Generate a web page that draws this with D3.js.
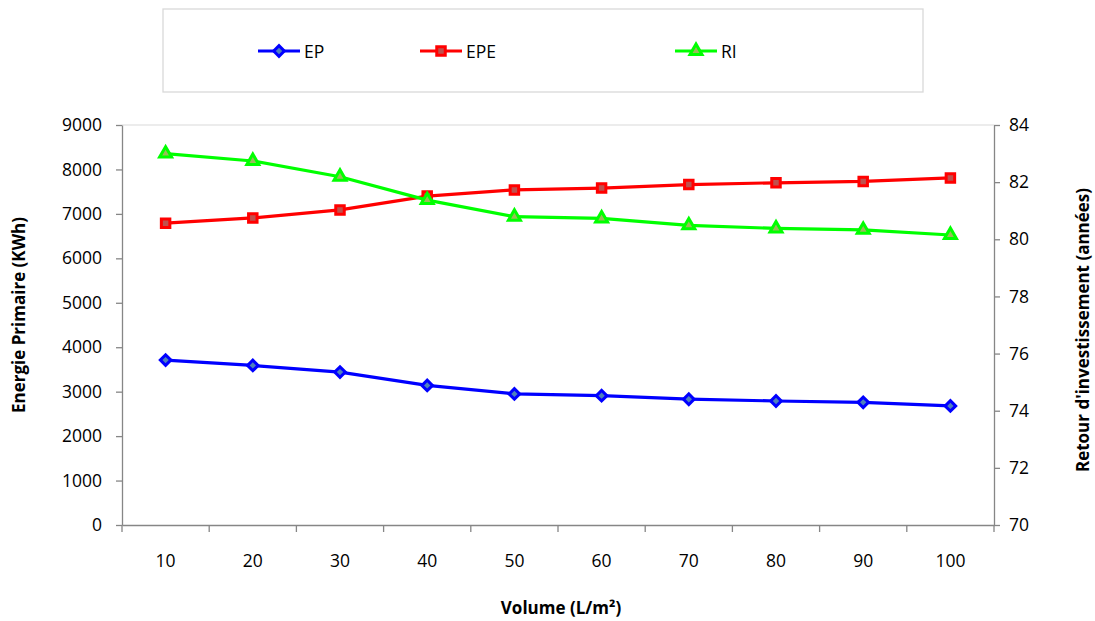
<!DOCTYPE html>
<html>
<head>
<meta charset="utf-8">
<script src="https://cdn.jsdelivr.net/npm/d3@7"></script>
<style>
  html, body { margin: 0; padding: 0; background: #fff; }
  svg { display: block; font-family: "Open Sans", Lato, sans-serif; }
</style>
</head>
<body>
<svg id="chart" width="1095" height="621"></svg>
<script>
// Volume categories (L/m²)
const volumes = [10, 20, 30, 40, 50, 60, 70, 80, 90, 100];
// Primary energy (KWh)
const ep  = [3710, 3590, 3440, 3140, 2950, 2910, 2830, 2790, 2760, 2680];
const epe = [6790, 6910, 7090, 7400, 7540, 7580, 7660, 7700, 7730, 7810];
// Return on investment (years)
const ri  = [83.0, 82.74, 82.19, 81.37, 80.79, 80.73, 80.49, 80.38, 80.33, 80.15];

const leftTicks  = [0, 1000, 2000, 3000, 4000, 5000, 6000, 7000, 8000, 9000];
const rightTicks = [70, 72, 74, 76, 78, 80, 82, 84];

const svg = d3.select("#chart");
const m = { left: 122, right: 994, top: 125, bottom: 525 };
const axisColor = "#868686";
const font = "'Open Sans', Lato, sans-serif";
const tickSize = "17.5px";

const x = d3.scaleBand().domain(volumes).range([m.left, m.right]);
const yL = d3.scaleLinear().domain([0, 9000]).range([m.bottom, m.top]);
const yR = d3.scaleLinear().domain([70, 84]).range([m.bottom, m.top]);

// plot area top border
svg.append("line")
  .attr("x1", m.left).attr("x2", m.right)
  .attr("y1", m.top).attr("y2", m.top)
  .attr("stroke", "#d9d9d9").attr("stroke-width", 1);

function styleAxis(g) {
  g.selectAll("path, line").attr("stroke", axisColor).attr("stroke-width", 1.3);
  g.selectAll("text").attr("fill", "#000").style("font-size", tickSize)
    .style("font-family", font);
}

// left axis
const gL = svg.append("g").attr("transform", `translate(${m.left},0)`)
  .call(d3.axisLeft(yL).tickValues(leftTicks).tickSize(6).tickSizeOuter(0).tickPadding(14).tickFormat(d3.format("d")));
styleAxis(gL);

// right axis
const gR = svg.append("g").attr("transform", `translate(${m.right},0)`)
  .call(d3.axisRight(yR).tickValues(rightTicks).tickSize(6).tickSizeOuter(0).tickPadding(9));
styleAxis(gR);

// bottom axis: labels centred in bands, ticks at band boundaries
const gB = svg.append("g").attr("transform", `translate(0,${m.bottom})`)
  .call(d3.axisBottom(x).tickSize(0).tickPadding(30));
styleAxis(gB);
const bounds = volumes.map((v) => x(v)).concat([m.right]);
gB.selectAll(".bound").data(bounds).enter().append("line")
  .attr("x1", (d) => d).attr("x2", (d) => d)
  .attr("y1", 0).attr("y2", 7)
  .attr("stroke", axisColor).attr("stroke-width", 1.3);

const cx = (i) => x(volumes[i]) + x.bandwidth() / 2;

// series; the EP diamond is a square turned by 45 degrees
const series = [
  { name: "EP",  values: ep,  y: yL, color: "#0000ff", fill: "#4f81bd", shape: d3.symbolSquare,   size: 56, rot: 45 },
  { name: "EPE", values: epe, y: yL, color: "#ff0000", fill: "#c0504d", shape: d3.symbolSquare,   size: 72, rot: 0 },
  { name: "RI",  values: ri,  y: yR, color: "#00ff00", fill: "#9bbb59", shape: d3.symbolTriangle, size: 62, rot: 0 }
];

series.forEach((s) => {
  const line = d3.line().x((d, i) => cx(i)).y((d) => s.y(d));
  svg.append("path").datum(s.values)
    .attr("d", line).attr("fill", "none")
    .attr("stroke", s.color).attr("stroke-width", 3.2)
    .attr("stroke-linejoin", "round");
  svg.append("g").selectAll("path").data(s.values).enter().append("path")
    .attr("transform", (d, i) => `translate(${cx(i)},${s.y(d)}) rotate(${s.rot})`)
    .attr("d", d3.symbol().type(s.shape).size(s.size))
    .attr("fill", s.fill).attr("stroke", s.color).attr("stroke-width", 3);
});

// legend
svg.append("rect")
  .attr("x", 163).attr("y", 9).attr("width", 760).attr("height", 83)
  .attr("fill", "#fff").attr("stroke", "#d9d9d9").attr("stroke-width", 1.3);
const legendX = [258, 420, 675];
series.forEach((s, i) => {
  const g = svg.append("g").attr("transform", `translate(${legendX[i]},51)`);
  g.append("line").attr("x1", 0).attr("x2", 42).attr("y1", 0).attr("y2", 0)
    .attr("stroke", s.color).attr("stroke-width", 3.2);
  g.append("path").attr("transform", `translate(21,0) rotate(${s.rot})`)
    .attr("d", d3.symbol().type(s.shape).size(s.size))
    .attr("fill", s.fill).attr("stroke", s.color).attr("stroke-width", 3);
  g.append("text").attr("x", 46).attr("y", 7)
    .style("font-size", tickSize).style("font-family", font).text(s.name);
});

// axis titles
function title(sel) {
  return sel.attr("text-anchor", "middle")
    .style("font-size", "17px").style("font-weight", "bold").style("font-family", font);
}
title(svg.append("text")
  .attr("transform", `translate(25,${(m.top + m.bottom) / 2 - 10}) rotate(-90)`))
  .text("Energie Primaire  (KWh)");
title(svg.append("text")
  .attr("transform", `translate(1089,${(m.top + m.bottom) / 2 + 5}) rotate(-90)`))
  .text("Retour d'investissement  (années)");
title(svg.append("text")
  .attr("x", (m.left + m.right) / 2 + 3).attr("y", 614))
  .text("Volume (L/m²)");
</script>
</body>
</html>
